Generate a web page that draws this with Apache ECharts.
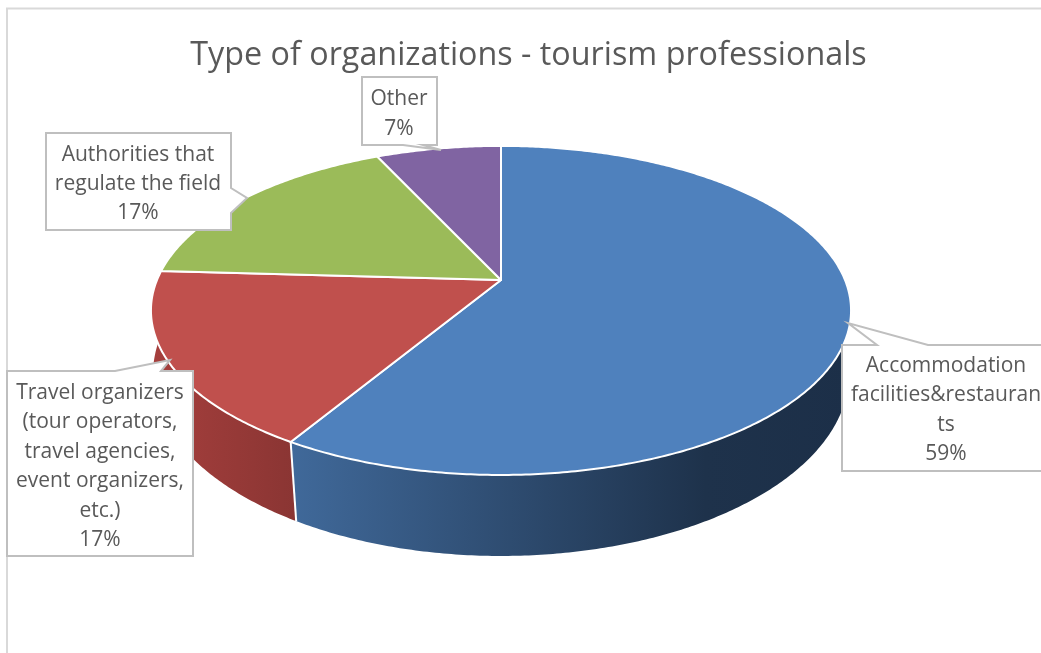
<!DOCTYPE html>
<html>
<head>
<meta charset="utf-8">
<style>html,body{margin:0;padding:0;background:#fff;overflow:hidden}#c{width:1041px;height:653px}</style>
<script src="https://cdn.jsdelivr.net/npm/echarts@6/dist/echarts.min.js"></script>
</head>
<body>
<div id="c"></div>
<script>
const titleText = 'Type of organizations - tourism professionals';
const categories = [
  'Accommodation\nfacilities&restauran\nts',
  'Travel organizers\n(tour operators,\ntravel agencies,\nevent organizers,\netc.)',
  'Authorities that\nregulate the field',
  'Other'
];
const seriesValues = [58.6, 17.3, 17.2, 6.9];

const FONT = '"Open Sans", "Noto Sans", sans-serif';
const TEXT = '#595959';
const topColors = ['#4f81bd', '#c0504d', '#9bbb59', '#8064a2'];
const wallFills = [
  [[0, '#40699a'], [0.74, '#1e324b'], [1, '#1c2f48']],
  [[0, '#a63f3d'], [1, '#8a3533']]
];
// Perspective projections of the pie's top face and bottom rim.
const topFace = { cx: 501, y0: 280, a: 344, b: 158.9, k: 0.185 };
const bottomRim = { cx: 501, y0: 344.9, a: 343.5, b: 177.3, k: 0.16 };
// Callout boxes: rectangle and pointer, one per category.
const callouts = [
  { box: [842, 345, 1060, 471], tip: [[877, 345], [848, 323], [928, 345]], side: 'top', tx: 946, ty: 410 },
  { box: [7, 371, 193, 556], tip: [[115, 371], [170, 360], [161, 371]], side: 'top', tx: 100, ty: 466.5 },
  { box: [46, 133, 231, 230], tip: [[231, 188], [247, 198], [231, 213]], side: 'right', tx: 138, ty: 184 },
  { box: [362, 77, 437, 145], tip: [[423, 145], [441, 150], [403, 145]], side: 'bottom', tx: 399, ty: 114 }
];

const total = seriesValues.reduce((s, v) => s + v, 0);
function angleAt(i) {
  let s = 0;
  for (let j = 0; j < i; j++) s += seriesValues[j];
  return s / total * Math.PI * 2;
}
function project(p, t) {
  const X = Math.sin(t), Y = -Math.cos(t), w = 1 - p.k * Y;
  return [p.cx + p.a * X / w, p.y0 + p.b * Y / w];
}
function rim(p, t0, t1) {
  const n = Math.max(4, Math.ceil((t1 - t0) / 0.01));
  const out = [];
  for (let i = 0; i <= n; i++) out.push(project(p, t0 + (t1 - t0) * i / n));
  return out;
}
function gradient(stops) {
  return new echarts.graphic.LinearGradient(0, 0, 1, 0, stops.map(s => ({ offset: s[0], color: s[1] })));
}
function wallItem(params) {
  const i = params.dataIndex;
  if (i > 1) return { type: 'group', children: [] };
  // The front wall starts part way round the first slice, where it is still hidden.
  const t0 = i === 0 ? angleAt(0) + 1 : angleAt(i), t1 = angleAt(i + 1);
  const pts = rim(topFace, t0, t1).concat(rim(bottomRim, t0, t1).reverse());
  return { type: 'polygon', shape: { points: pts },
    style: { fill: gradient(wallFills[i]), stroke: null } };
}
function wallEdgeItem(params) {
  const i = params.dataIndex;
  if (i !== 0) return { type: 'group', children: [] };
  const t = angleAt(1);
  const a = project(topFace, t), b = project(bottomRim, t);
  return { type: 'line', shape: { x1: a[0], y1: a[1], x2: b[0], y2: b[1] },
    style: { stroke: '#fff', lineWidth: 2 } };
}
function topItem(params) {
  const i = params.dataIndex;
  const pts = [[topFace.cx, topFace.y0]].concat(rim(topFace, angleAt(i), angleAt(i + 1)));
  return { type: 'polygon', shape: { points: pts },
    style: { fill: topColors[i], stroke: '#fff', lineWidth: 2, lineJoin: 'round' } };
}
function calloutItem(params) {
  const i = params.dataIndex, c = callouts[i];
  const [l, t, r, b] = c.box;
  let pts;
  if (c.side === 'top') pts = [[l, t]].concat(c.tip, [[r, t], [r, b], [l, b]]);
  else if (c.side === 'right') pts = [[l, t], [r, t]].concat(c.tip, [[r, b], [l, b]]);
  else pts = [[l, t], [r, t], [r, b]].concat(c.tip, [[l, b]]);
  const label = categories[i] + '\n' + Math.round(seriesValues[i]) + '%';
  return { type: 'group', children: [
    { type: 'polygon', shape: { points: pts },
      style: { fill: '#fff', stroke: '#bfbfbf', lineWidth: 2 } },
    { type: 'text', style: { text: label, x: c.tx, y: c.ty, align: 'center', verticalAlign: 'middle',
      fontFamily: FONT, fontSize: 21, lineHeight: 29.4, fill: TEXT } }
  ] };
}
const rows = seriesValues.map((v, i) => [i, v]);
const chart = echarts.init(document.getElementById('c'), null, { renderer: 'canvas' });
chart.setOption({
  animation: false,
  backgroundColor: '#fff',
  title: { text: titleText, left: 523.5, top: 51, textAlign: 'center', textVerticalAlign: 'middle',
    textStyle: { fontFamily: FONT, fontSize: 32.3, fontWeight: 'normal', color: TEXT } },
  graphic: [
    { type: 'polyline', z: -1, shape: { points: [[7, 660], [7, 8.5], [1050, 8.5]] },
      style: { fill: null, stroke: '#d9d9d9', lineWidth: 2 } }
  ],
  series: [
    { type: 'custom', coordinateSystem: 'none', data: rows, renderItem: wallItem, z: 1, silent: true },
    { type: 'custom', coordinateSystem: 'none', data: rows, renderItem: wallEdgeItem, z: 2, silent: true },
    { type: 'custom', coordinateSystem: 'none', data: rows, renderItem: topItem, z: 3, silent: true },
    { type: 'custom', coordinateSystem: 'none', data: rows, renderItem: calloutItem, z: 4, silent: true }
  ]
});
</script>
</body>
</html>
